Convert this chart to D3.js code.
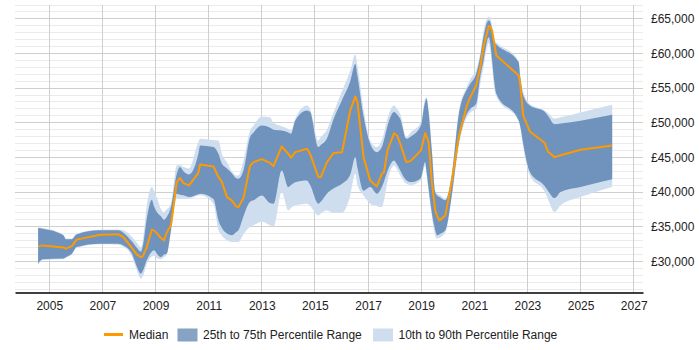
<!DOCTYPE html>
<html><head><meta charset="utf-8">
<script src="https://cdn.jsdelivr.net/npm/d3@7"></script>
<style>
body{margin:0;background:#fff;}
text{font-family:"Liberation Sans",Arial,sans-serif;}
</style></head>
<body><svg id="chart" width="700" height="350"></svg>
<script>
const dates = [2004.58,2004.75,2005.53,2005.62,2005.85,2006.03,2006.91,2007.6,2007.79,2008.1,2008.29,2008.45,2008.52,2008.67,2008.86,2008.94,2009.07,2009.2,2009.32,2009.42,2009.58,2009.8,2009.92,2010.05,2010.26,2010.61,2010.68,2011.18,2011.37,2011.5,2011.69,2011.87,2012.03,2012.12,2012.31,2012.56,2012.69,2013.0,2013.31,2013.44,2013.75,2014.0,2014.1,2014.26,2014.7,2014.82,2015.13,2015.22,2015.45,2015.7,2016.02,2016.33,2016.52,2016.6,2016.83,2017.08,2017.33,2017.52,2017.6,2017.73,2017.98,2018.09,2018.21,2018.44,2018.6,2018.99,2019.15,2019.2,2019.28,2019.4,2019.53,2019.6,2019.69,2019.91,2020.16,2020.41,2020.72,2020.85,2021.07,2021.22,2021.35,2021.54,2021.58,2021.67,2021.75,2021.83,2022.67,2022.73,2022.84,2023.09,2023.64,2023.77,2024.02,2024.25,2025.0,2026.19];
const median = [32160,32300,32000,31830,32200,33130,33850,33900,33500,31980,31000,30620,30720,32060,34570,34470,34000,33360,33030,34140,35190,41440,42010,41290,40960,42740,43990,43700,42160,41440,39270,38800,37930,37830,39130,43840,44320,44750,44200,43740,46580,45500,44960,45760,46250,45500,42160,42160,44300,45620,45760,51780,53800,52970,45040,41680,40810,42650,42880,46000,48500,48170,47000,44320,44470,46010,48500,48000,47210,41500,37350,36500,35910,36630,41680,47930,52500,53700,55380,58000,61000,63930,63930,63310,61500,59710,56820,55500,51060,48750,47120,45860,45040,45300,46100,46730];
const p25 = [29660,30300,30400,30600,31100,32060,32550,32550,32300,31200,29300,28230,28600,30140,31400,31590,31000,30620,31000,31110,34500,39760,39600,39520,39270,39700,39760,39000,35910,34800,34000,33750,34200,34470,36500,38600,38800,39500,38410,38320,43120,40720,41000,41400,41680,41000,38320,38600,39760,40500,41200,42500,45040,43500,40200,40720,39760,40720,41500,43000,44570,44000,43120,41700,41440,42000,44320,43000,40500,37000,34500,33750,33900,34470,39760,46970,51300,52000,52740,56580,58990,62350,62000,59000,56000,54190,50330,49500,47000,42880,40900,40200,39130,40000,40720,41830];
const p75 = [34800,34700,33750,33200,33200,33890,34470,34470,34140,32930,32000,31400,32200,36150,38900,38000,37000,36500,36000,36400,37830,42650,43600,43000,42550,45500,46730,46500,45500,44070,43400,42700,42000,41930,43120,47930,48600,49600,49280,49000,48890,48600,48400,50330,51780,51540,46490,46800,47700,50500,53300,56000,58500,56800,51000,46970,45760,46490,47500,49500,51540,51200,50570,47700,48000,49610,53000,53460,51500,46000,40000,39500,39270,38800,42650,51060,54800,55620,57060,59500,62500,64760,64700,63500,61630,61300,58740,56580,54000,52500,51630,51000,49800,49900,50300,51150];
const p10 = [29500,30200,30300,30500,31000,31950,32450,32400,32100,30800,28800,27500,27800,29600,30700,30800,30400,30300,30600,30900,34000,39040,39040,39040,39040,39500,39520,38300,34470,33700,33030,32800,32780,32780,33900,35000,35200,35700,35190,34950,40000,37350,37700,38080,38320,38000,36630,36900,37350,37000,37000,39500,42650,41000,39520,38320,38000,37830,38800,41500,43840,43300,42400,41200,41000,41700,43800,42500,40000,36500,33700,33270,33400,34200,39500,46500,50800,51500,52000,55500,58000,61500,61000,58000,55000,53800,50200,49300,46500,42400,40100,39000,37110,38080,39270,40720];
const p90 = [34900,34800,33850,33300,33300,34000,34550,34600,34500,33600,32700,32000,33000,38000,40720,40200,39000,37600,37100,37500,38320,43840,43900,43600,43400,47200,47700,47500,47450,45500,44300,43000,42400,42400,44500,48890,49600,50900,50810,50000,49500,49100,48890,50570,52500,52000,47450,47930,49000,51500,54600,57500,59850,58300,52000,47450,46500,47500,48500,50600,52500,52000,51300,47930,48600,50090,53500,53700,52000,46500,40240,39800,39600,39040,43000,51500,55200,56300,57600,60000,63300,65300,65200,64000,61900,61600,58900,56900,54500,52700,51780,51400,50600,50800,51500,52600];
const yTicks = [30000,35000,40000,45000,50000,55000,60000,65000];
const xTicks = [2005,2007,2009,2011,2013,2015,2017,2019,2021,2023,2025,2027];
const legendLabels = ["Median","25th to 75th Percentile Range","10th to 90th Percentile Range"];

const svg = d3.select("#chart");
const L = 15, R = 643, T = 5, B = 292.5;
const x = d3.scaleLinear().domain([2003.71, 2027.35]).range([L, R]);
const y = d3.scaleLinear().domain([25500, 67000]).range([B, T]);

const rows = dates.map((d,i)=>({t:d, m:median[i], a:p25[i], b:p75[i], c:p10[i], e:p90[i]}));

// gridlines
const g = svg.append("g");
g.selectAll("line.minor").data(d3.range(26000, 67001, 1000).filter(v=>v%5000!==0)).enter()
  .append("line").attr("x1",L).attr("x2",R).attr("y1",d=>y(d)).attr("y2",d=>y(d))
  .attr("stroke","#ebebeb").attr("stroke-width",1).attr("shape-rendering","crispEdges");
g.selectAll("line.major").data(yTicks).enter()
  .append("line").attr("x1",L).attr("x2",R).attr("y1",d=>y(d)).attr("y2",d=>y(d))
  .attr("stroke","#cfcfcf").attr("stroke-width",1).attr("shape-rendering","crispEdges");
g.selectAll("line.vx").data(xTicks).enter()
  .append("line").attr("x1",d=>x(d)).attr("x2",d=>x(d)).attr("y1",T).attr("y2",B)
  .attr("stroke","#cfcfcf").attr("stroke-width",1).attr("shape-rendering","crispEdges");

// bands
const outer = d3.area().x(d=>x(d.t)).y0(d=>y(d.c)).y1(d=>y(d.e)).curve(d3.curveMonotoneX);
const inner = d3.area().x(d=>x(d.t)).y0(d=>y(d.a)).y1(d=>y(d.b)).curve(d3.curveMonotoneX);
svg.append("path").datum(rows).attr("d",outer).attr("fill","#cfdeef");
svg.append("path").datum(rows).attr("d",inner).attr("fill","#6f93bd");
svg.append("path").datum(rows).attr("d",d3.line().x(d=>x(d.t)).y(d=>y(d.m)))
  .attr("fill","none").attr("stroke","#ff9900").attr("stroke-width",2).attr("stroke-linejoin","round");

// x axis
const xAxis = d3.axisBottom(x).tickValues(xTicks).tickFormat(d3.format("d")).tickSize(0).tickPadding(9);
const xa = svg.append("g").attr("transform",`translate(0,${B})`).call(xAxis);
xa.select(".domain").attr("stroke","#000").attr("stroke-width",1.5);
xa.selectAll("text").attr("font-size",12).attr("fill","#222").attr("font-family","'Liberation Sans',Arial,sans-serif");

// y axis
const yAxis = d3.axisRight(y).tickValues(yTicks).tickFormat(d=>"£"+d3.format(",")(d)).tickSize(0).tickPadding(8);
const ya = svg.append("g").attr("transform",`translate(${R},0)`).call(yAxis);
ya.select(".domain").remove();
ya.selectAll("text").attr("font-size",12).attr("fill","#222").attr("font-family","'Liberation Sans',Arial,sans-serif");

// legend
const lg = svg.append("g");
lg.append("line").attr("x1",104).attr("x2",123).attr("y1",334.5).attr("y2",334.5).attr("stroke","#ff9900").attr("stroke-width",3);
lg.append("text").attr("x",129).attr("y",338.5).attr("font-size",12).attr("fill","#222").text(legendLabels[0]);
lg.append("rect").attr("x",177.5).attr("y",328.5).attr("width",20).attr("height",13).attr("fill","#86a3c4");
lg.append("text").attr("x",203).attr("y",338.5).attr("font-size",12).attr("fill","#222").text(legendLabels[1]);
lg.append("rect").attr("x",373).attr("y",328.5).attr("width",20).attr("height",13).attr("fill","#cfdeef");
lg.append("text").attr("x",398.5).attr("y",338.5).attr("font-size",12).attr("fill","#222").text(legendLabels[2]);
</script></body></html>
